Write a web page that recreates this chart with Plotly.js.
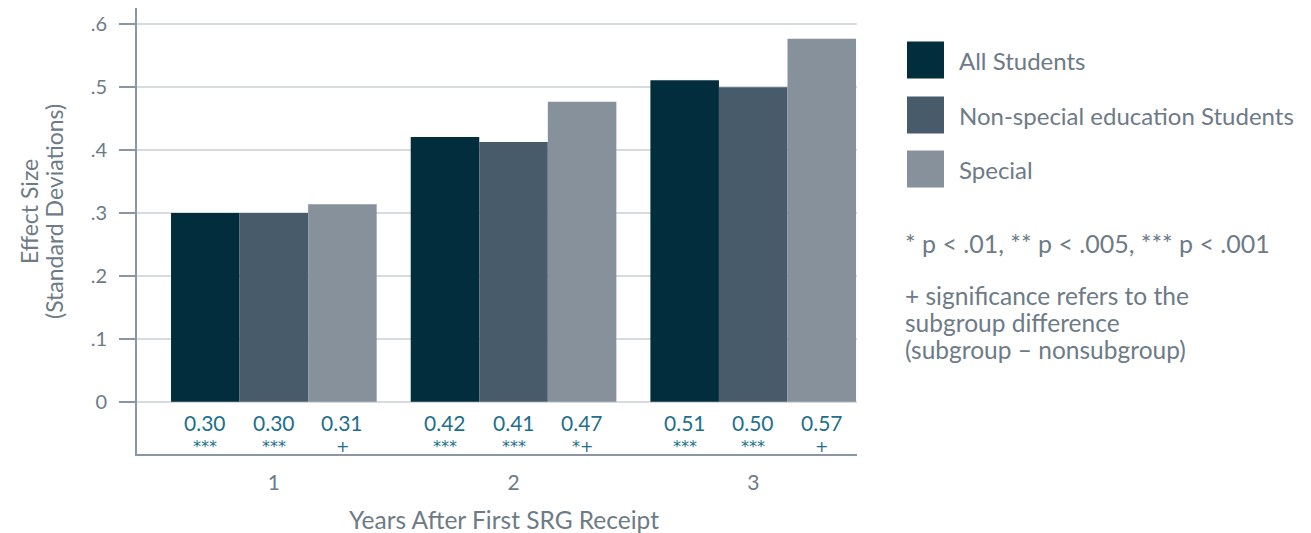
<!DOCTYPE html>
<html>
<head>
<meta charset="utf-8">
<script src="https://cdn.plot.ly/plotly-3.0.1.min.js"></script>
<style>
  html, body { margin: 0; padding: 0; background: #ffffff; }
  #chart { width: 1311px; height: 533px; }
</style>
</head>
<body>
<div id="chart"></div>
<script>
// ---- Data ----
const years = [1, 2, 3];
const yearLabels = ["1", "2", "3"];
const seriesNames = ["All Students", "Non-special education Students", "Special"];
const allStudents = [0.300, 0.421, 0.511];
const nonSpecial = [0.300, 0.413, 0.500];
const special = [0.314, 0.477, 0.577];
const allLabels = ["0.30", "0.42", "0.51"];
const nonSpecialLabels = ["0.30", "0.41", "0.50"];
const specialLabels = ["0.31", "0.47", "0.57"];
const allStars = ["***", "***", "***"];
const nonSpecialStars = ["***", "***", "***"];
const specialStars = ["+", "*+", "+"];
const yTickVals = [0, 0.1, 0.2, 0.3, 0.4, 0.5, 0.6];
const yTickText = ["0", ".1", ".2", ".3", ".4", ".5", ".6"];
const yTitleLines = ["Effect Size", "(Standard Deviations)"];
const xTitle = "Years After First SRG Receipt";
const noteLine1 = "* p < .01, ** p < .005, *** p < .001";
const noteLines2 = ["+ significance refers to the", "subgroup difference", "(subgroup – nonsubgroup)"];

// ---- Styles ----
const colors = ["#022d3d", "#475b6b", "#86919c"];
const textGrey = "#6d7b87";
const axisGrey = "#8a96a1";
const labelTeal = "#1d6f8c";
const FONT = "Lato, 'Open Sans', sans-serif";
const STAR_FONT = "'DejaVu Sans', Lato, sans-serif";
const bargap = 0.142;
const nSeries = 3;
const barW = (1 - bargap) / nSeries;

const values = [allStudents, nonSpecial, special];
const labels = [allLabels, nonSpecialLabels, specialLabels];
const stars = [allStars, nonSpecialStars, specialStars];

const traces = values.map((v, i) => ({
  type: "bar",
  name: seriesNames[i],
  x: years,
  y: v,
  marker: { color: colors[i], line: { width: 0 } },
  hoverinfo: "x+y+name",
  showlegend: false
}));

const annotations = [];
values.forEach((v, i) => {
  years.forEach((yr, j) => {
    const xc = yr + (i - (nSeries - 1) / 2) * barW;
    annotations.push({
      x: xc, y: -0.0323, xref: "x", yref: "y",
      text: labels[i][j], showarrow: false,
      font: { family: FONT, size: 21, color: labelTeal },
      xanchor: "center", yanchor: "middle"
    });
    annotations.push({
      x: xc, y: -0.0705, xref: "x", yref: "y",
      text: stars[i][j], showarrow: false,
      font: { family: STAR_FONT, size: 16, color: labelTeal },
      xanchor: "center", yanchor: "middle"
    });
  });
});

const plotLeft = 137, plotW = 720, plotTop = 8, plotH = 446;
const pxFromPx = (px) => (px - plotLeft) / plotW;
const pyFromPx = (py) => (plotTop + plotH - py) / plotH;

// y axis title (two lines, rotated)
const yTitleX = [29, 54];
yTitleLines.forEach((t, k) => {
  annotations.push({
    x: pxFromPx(yTitleX[k]), y: pyFromPx(212), xref: "paper", yref: "paper",
    text: t, showarrow: false, textangle: -90,
    font: { family: FONT, size: 23, color: textGrey },
    xanchor: "center", yanchor: "middle"
  });
});

// x axis title
annotations.push({
  x: pxFromPx(504), y: pyFromPx(519), xref: "paper", yref: "paper",
  text: xTitle, showarrow: false,
  font: { family: FONT, size: 24.5, color: textGrey },
  xanchor: "center", yanchor: "middle"
});

// custom legend
const shapes = [];
const legendRowsPx = [60, 115, 169];
seriesNames.forEach((name, i) => {
  const cy = legendRowsPx[i];
  shapes.push({
    type: "rect", xref: "paper", yref: "paper",
    x0: pxFromPx(907), x1: pxFromPx(944),
    y0: pyFromPx(cy + 18.5), y1: pyFromPx(cy - 18.5),
    fillcolor: colors[i], line: { width: 0 }
  });
  annotations.push({
    x: pxFromPx(957), y: pyFromPx(cy), xref: "paper", yref: "paper",
    text: name, showarrow: false, xanchor: "left", yanchor: "middle",
    font: { family: FONT, size: 24, color: textGrey }
  });
});
annotations.push({
  x: pxFromPx(903), y: pyFromPx(243), xref: "paper", yref: "paper",
  text: noteLine1, showarrow: false, xanchor: "left", yanchor: "middle",
  font: { family: FONT, size: 25, color: textGrey }
});
const noteRows = [295, 322, 349];
noteLines2.forEach((t, k) => {
  annotations.push({
    x: pxFromPx(903), y: pyFromPx(noteRows[k]), xref: "paper", yref: "paper",
    text: t, showarrow: false, xanchor: "left", yanchor: "middle",
    font: { family: FONT, size: 24.5, color: textGrey }
  });
});

const layout = {
  width: 1311, height: 533,
  margin: { l: plotLeft, r: 1311 - plotLeft - plotW, t: plotTop, b: 533 - plotTop - plotH, pad: 0 },
  paper_bgcolor: "#ffffff", plot_bgcolor: "#ffffff",
  barmode: "group", bargap: bargap, bargroupgap: 0,
  font: { family: FONT, color: textGrey },
  xaxis: {
    range: [0.429, 3.433],
    tickvals: years, ticktext: yearLabels,
    ticks: "", showgrid: false, zeroline: false,
    showline: true, linecolor: axisGrey, linewidth: 2,
    tickfont: { family: FONT, size: 21, color: textGrey },
    ticklabelstandoff: 9
  },
  yaxis: {
    range: [-0.083, 0.626],
    tickvals: yTickVals, ticktext: yTickText,
    ticks: "outside", ticklen: 16, tickcolor: axisGrey, tickwidth: 1.5,
    showgrid: true, gridcolor: "#d6dbe0", gridwidth: 1.5,
    zeroline: false,
    showline: true, linecolor: axisGrey, linewidth: 2,
    tickfont: { family: FONT, size: 20, color: textGrey },
    ticklabelstandoff: 8
  },
  shapes: shapes,
  annotations: annotations,
  showlegend: false
};

Plotly.newPlot("chart", traces, layout, { displayModeBar: false });
</script>
</body>
</html>
